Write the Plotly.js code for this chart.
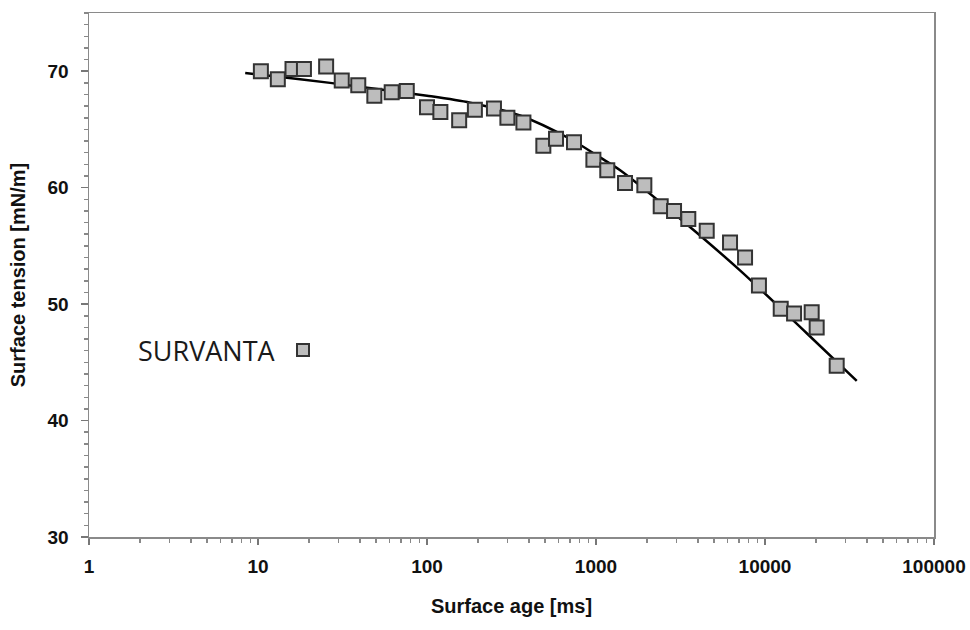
<!DOCTYPE html>
<html>
<head>
<meta charset="utf-8">
<script src="https://cdn.plot.ly/plotly-3.0.1.min.js"></script>
<style>
  html, body { margin: 0; padding: 0; background: #ffffff; }
  #chart { width: 970px; height: 630px; }
</style>
</head>
<body>
<div id="chart"></div>
<script>
// Measured surface tension of SURVANTA versus surface age
const ageMs = [10.4, 13.1, 16.0, 18.7, 25.3, 31.3, 39.2, 48.8, 61.8, 75.9,
               100, 120, 155, 192, 249, 299, 372, 488, 580, 741, 965, 1166,
               1485, 1932, 2415, 2896, 3517, 4520, 6210, 7620,
               9208, 12390, 14860, 18890, 20220, 26560];
const tension = [70.0, 69.3, 70.2, 70.2, 70.4, 69.2, 68.8, 67.9, 68.2, 68.3,
                 66.9, 66.5, 65.8, 66.7, 66.8, 66.0, 65.6, 63.6, 64.2, 63.9, 62.4, 61.5,
                 60.4, 60.2, 58.4, 58.0, 57.3, 56.3, 55.3, 54.0,
                 51.6, 49.6, 49.2, 49.3, 48.0, 44.7];

// Fitted curve through the measurements
const fitAge = [8.4, 10.4, 26.7, 100, 180, 355, 700, 1056, 1390, 2620, 7110, 17660, 34900];
const fitTension = [69.85, 69.7, 69.0, 67.9, 67.3, 66.2, 64.2, 62.6, 61.5, 58.3, 52.9, 47.5, 43.4];

const xTicks = [1, 10, 100, 1000, 10000, 100000];
const xTickText = ['1', '10', '100', '1000', '10000', '100000'];
const yTicks = [30, 40, 50, 60, 70];

const seriesName = 'SURVANTA';
const xTitle = 'Surface age [ms]';
const yTitle = 'Surface tension [mN/m]';

const tickFont = { family: 'Liberation Sans, Arial, sans-serif', size: 19, color: '#111111', weight: 'bold' };
const titleFont = { family: 'Liberation Sans, Arial, sans-serif', size: 20, color: '#111111', weight: 'bold' };

const traces = [
  {
    x: fitAge, y: fitTension,
    type: 'scatter', mode: 'lines',
    line: { color: '#000000', width: 2.5, shape: 'spline', smoothing: 0.8 },
    showlegend: false, hoverinfo: 'skip'
  },
  {
    x: ageMs, y: tension,
    type: 'scatter', mode: 'markers', name: seriesName,
    marker: { symbol: 'square', size: 14, color: '#bdbdbd',
              line: { color: '#333333', width: 2 } },
    showlegend: false
  }
];

const layout = {
  width: 970, height: 630,
  margin: { l: 89, r: 36, t: 13, b: 93 },
  paper_bgcolor: '#ffffff', plot_bgcolor: '#ffffff',
  showlegend: false,
  xaxis: {
    type: 'log', range: [0, 5],
    tickvals: xTicks, ticktext: xTickText,
    ticks: 'outside', ticklen: 6, tickwidth: 1.5, tickcolor: '#777777',
    minor: { ticks: 'outside', ticklen: 4, tickwidth: 1.5, tickcolor: '#888888', dtick: 'D1', showgrid: false },
    showgrid: false, zeroline: false,
    showline: true, linecolor: '#8a8a8a', linewidth: 1.5, mirror: true,
    tickfont: tickFont, ticklabelstandoff: 6,
    title: { text: xTitle, font: titleFont, standoff: 22 }
  },
  yaxis: {
    range: [30, 75],
    tickvals: yTicks,
    ticks: 'outside', ticklen: 7, tickwidth: 1.5, tickcolor: '#777777',
    minor: { ticks: 'outside', ticklen: 4, tickwidth: 1.5, tickcolor: '#888888', dtick: 1, showgrid: false },
    showgrid: false, zeroline: false,
    showline: true, linecolor: '#8a8a8a', linewidth: 1.5, mirror: true,
    tickfont: tickFont, ticklabelstandoff: 8,
    title: { text: yTitle, font: titleFont, standoff: 16 }
  },
  annotations: [
    {
      xref: 'paper', yref: 'paper',
      x: (206.5 - 89) / 845, y: (537 - 350) / 524,
      xanchor: 'center', yanchor: 'middle', showarrow: false,
      text: seriesName,
      font: { family: 'Open Sans, sans-serif', size: 27, color: '#1a1a1a' }
    }
  ],
  shapes: [
    // legend key for the measured series
    {
      type: 'rect', xref: 'paper', yref: 'paper',
      x0: (297 - 89) / 845, x1: (309 - 89) / 845,
      y0: (537 - 356) / 524, y1: (537 - 344) / 524,
      fillcolor: '#bdbdbd', line: { color: '#333333', width: 2 }
    }
  ]
};

Plotly.newPlot('chart', traces, layout, { staticPlot: true, displayModeBar: false });
</script>
</body>
</html>
